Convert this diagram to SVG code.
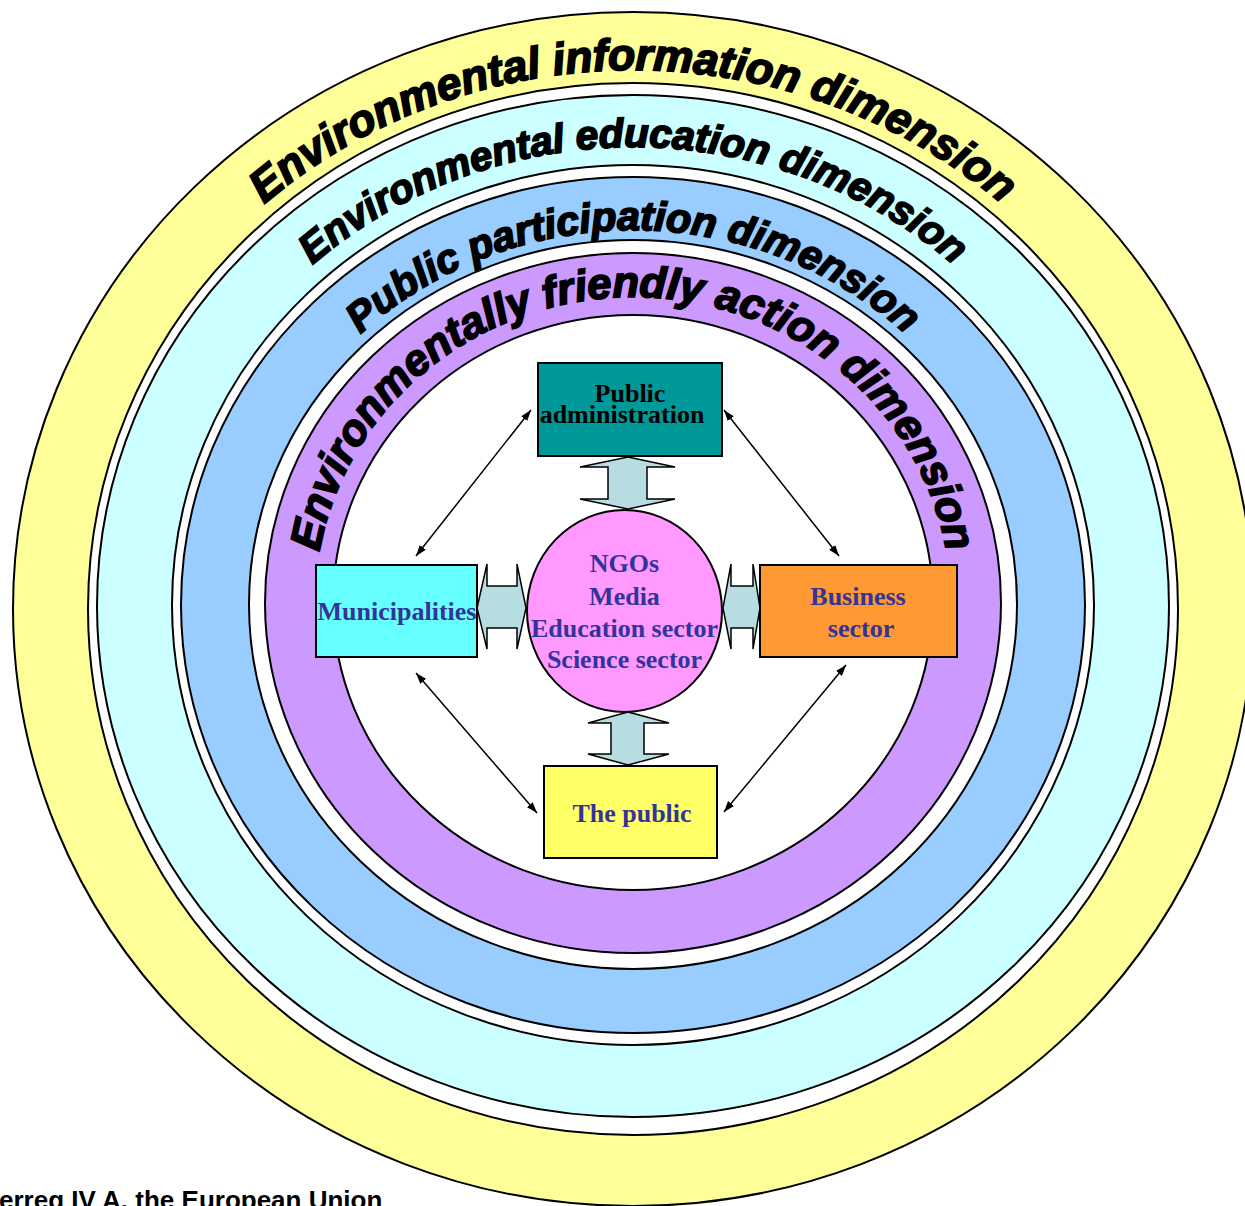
<svg xmlns="http://www.w3.org/2000/svg" width="1245" height="1206" viewBox="0 0 1245 1206">
<style>
.ring{stroke:#000;stroke-width:2}
.dim{font-family:"Liberation Sans",Arial,sans-serif;font-weight:bold;font-style:italic;fill:#000;stroke:#000;stroke-width:1.8}
.box{stroke:#000;stroke-width:2}
.lbl{font-family:"Liberation Serif","Times New Roman",serif;font-weight:bold;font-size:26px;text-anchor:middle;fill:#333399}
.blk{fill:#B7DDE2;stroke:#000;stroke-width:1.5}
.thin{stroke:#000;stroke-width:1.5;fill:none;marker-start:url(#ah);marker-end:url(#ah)}
.foot{font-family:"Liberation Sans",Arial,sans-serif;font-weight:bold;font-size:26px;fill:#000}
</style>
<defs>
<marker id="ah" viewBox="0 0 10 7" refX="10" refY="3.5" markerWidth="11" markerHeight="8" markerUnits="userSpaceOnUse" orient="auto-start-reverse">
<path d="M0,0 L10,3.5 L0,7 z" fill="#000"/>
</marker>
<path id="p1" d="M107.7,793.3 A559,539 0 0 1 633,70 A559,539 0 0 1 1158.3,793.3"/>
<path id="p2" d="M182.9,762.3 A479,458.5 0 0 1 633,147 A479,458.5 0 0 1 1083.1,762.3"/>
<path id="p3" d="M262.8,732.6 A394,374.5 0 0 1 633,230 A394,374.5 0 0 1 1003.2,732.6"/>
<path id="p4" d="M334.2,707.7 A318,306 0 0 1 633,297 A318,306 0 0 1 931.8,707.7"/>
</defs>
<rect width="1245" height="1206" fill="#fff"/>
<g id="rings">
<ellipse class="ring" cx="633" cy="609" rx="620" ry="597" fill="#FFFF99"/>
<ellipse class="ring" cx="633" cy="609" rx="545" ry="526" fill="#fff"/>
<ellipse class="ring" cx="633" cy="606" rx="536" ry="511" fill="#CCFFFF"/>
<ellipse class="ring" cx="633" cy="605" rx="461" ry="440" fill="#fff"/>
<ellipse class="ring" cx="633" cy="605" rx="452" ry="428" fill="#99CCFF"/>
<ellipse class="ring" cx="633" cy="604.5" rx="384" ry="364.5" fill="#fff"/>
<ellipse class="ring" cx="633" cy="603" rx="368" ry="350" fill="#CC99FF"/>
<ellipse class="ring" cx="633" cy="602.5" rx="300" ry="287.5" fill="#fff"/>
</g>
<g id="ring-labels">
<text class="dim" font-size="44.5"><textPath href="#p1" startOffset="50%" text-anchor="middle">Environmental information dimension</textPath></text>
<text class="dim" font-size="40.5"><textPath href="#p2" startOffset="50%" text-anchor="middle">Environmental education dimension</textPath></text>
<text class="dim" font-size="41"><textPath href="#p3" startOffset="50%" text-anchor="middle">Public participation dimension</textPath></text>
<text class="dim" font-size="43.5"><textPath href="#p4" startOffset="50%" text-anchor="middle">Environmentally friendly action dimension</textPath></text>
</g>
<g id="connectors">
<path class="blk" d="M628,457 L675,467 L647,467 L647,499 L675,499 L628,509 L580,499 L608,499 L608,467 L580,467 Z"/>
<path class="blk" d="M628,712 L669,723 L644,723 L644,754 L669,754 L628,765 L588,754 L611,754 L611,723 L588,723 Z"/>
<path class="blk" d="M477,608 L487,564 L487,586 L517,586 L517,564 L526,608 L517,649 L517,628 L487,628 L487,649 Z"/>
<path class="blk" d="M723,608 L731,564 L731,586 L753,586 L753,564 L760,608 L753,649 L753,628 L731,628 L731,649 Z"/>
<line class="thin" x1="531" y1="410" x2="416" y2="556"/>
<line class="thin" x1="724" y1="410" x2="839" y2="556"/>
<line class="thin" x1="416" y1="673" x2="537" y2="813"/>
<line class="thin" x1="846" y1="665" x2="724" y2="812"/>
</g>
<g id="public-administration">
<rect class="box" x="538" y="363" width="184" height="93" fill="#009999"/>
<text class="lbl" x="630" y="402" style="fill:#000">Public</text>
<text class="lbl" x="622" y="423" style="fill:#000">administration</text>
</g>
<g id="municipalities">
<rect class="box" x="316" y="565" width="161" height="92" fill="#66FFFF"/>
<text class="lbl" x="397" y="620">Municipalities</text>
</g>
<g id="business-sector">
<rect class="box" x="760" y="565" width="197" height="92" fill="#FF9933"/>
<text class="lbl" x="858" y="605">Business</text>
<text class="lbl" x="861" y="637">sector</text>
</g>
<g id="the-public">
<rect class="box" x="544" y="766" width="173" height="92" fill="#FFFF66"/>
<text class="lbl" x="632" y="822">The public</text>
</g>
<g id="ngos">
<ellipse class="box" cx="624.5" cy="611" rx="97.5" ry="101" fill="#FF99FF"/>
<text class="lbl" x="624.5" y="572">NGOs</text>
<text class="lbl" x="624.5" y="605">Media</text>
<text class="lbl" x="624.5" y="637">Education sector</text>
<text class="lbl" x="624.5" y="668">Science sector</text>
</g>
<text class="foot" x="-1" y="1209">erreg IV A, the European Union</text>
</svg>
